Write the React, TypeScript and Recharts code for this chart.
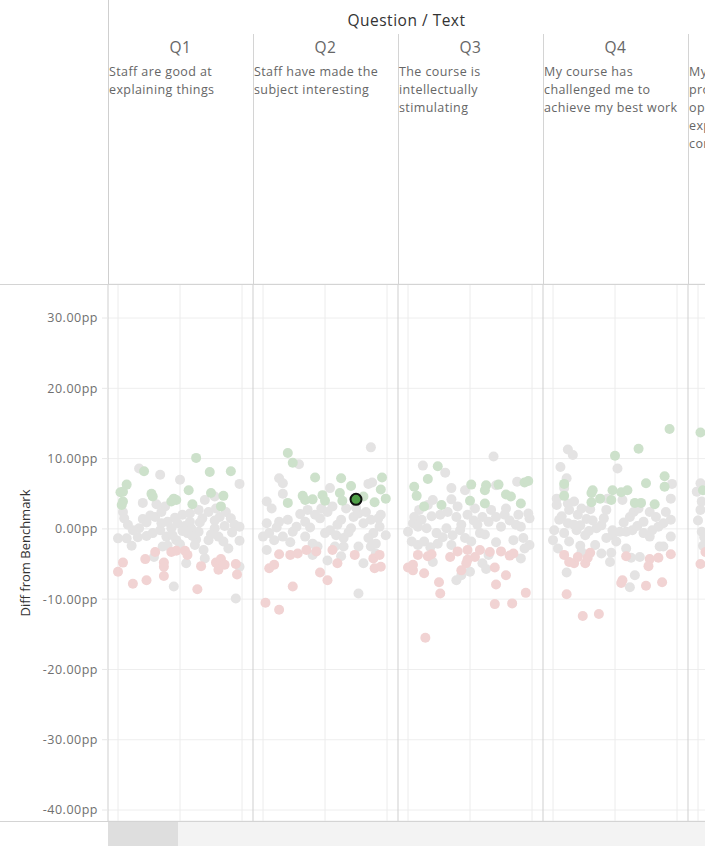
import React from 'react'
import {
  ScatterChart,
  Scatter,
  XAxis,
  YAxis,
  CartesianGrid,
  ReferenceLine
} from 'recharts'

// [jitter 0..1 inside the panel, diff from benchmark in pp]
type Pt = [number, number]

const questions = ['Q1', 'Q2', 'Q3', 'Q4', 'Q5']
const questionText = [
  ['Staff are good at', 'explaining things'],
  ['Staff have made the', 'subject interesting'],
  ['The course is', 'intellectually', 'stimulating'],
  ['My course has', 'challenged me to', 'achieve my best work'],
  ['My course has', 'provided me with', 'opportunities to', 'explore ideas or', 'concepts in depth']
]
const yTicks = [-40, -30, -20, -10, 0, 10, 20, 30]

const q1Green: Pt[] = [
  [0.63, 10.1], [0.91, 8.2], [0.74, 8.1], [0.21, 8.2], [0.07, 6.3], [0.02, 5.2], [0.04, 3.9],
  [0.03, 3.4], [0.27, 5.0], [0.28, 4.6], [0.57, 5.5], [0.45, 4.3], [0.47, 4.1], [0.43, 3.9],
  [0.6, 3.5], [0.75, 5.1], [0.85, 4.7], [0.83, 3.2], [0.04, 5.3]
]
const q1Gray: Pt[] = [
  [0.17, 8.6], [0.34, 7.7], [0.5, 7.0], [0.98, 6.4], [0.2, 3.7], [0.31, 3.5], [0.38, 3.2],
  [0.7, 4.1], [0.78, 4.6], [0.04, 2.4], [0.05, 1.5], [0.08, 0.6], [0.2, 1.4], [0.23, 0.9],
  [0.3, 1.7], [0.35, 2.4], [0.4, 1.0], [0.46, 1.6], [0.52, 2.0], [0.58, 2.2], [0.65, 2.7],
  [0.68, 1.5], [0.73, 2.4], [0.79, 2.9], [0.82, 1.7], [0.87, 2.4], [0.91, 1.5], [0.94, 0.6],
  [0.98, 0.3], [0.0, -1.35], [0.07, -1.35], [0.11, -2.4], [0.16, -1.2], [0.23, -1.0],
  [0.28, -0.6], [0.34, -0.2], [0.39, -1.1], [0.4, -2.4], [0.43, 0.1], [0.47, -1.6],
  [0.5, -2.2], [0.54, 0.4], [0.56, -0.6], [0.59, 0.1], [0.63, -1.5], [0.65, -0.4],
  [0.69, -3.0], [0.7, -4.2], [0.73, -1.6], [0.78, 0.1], [0.81, -1.1], [0.85, -1.8],
  [0.89, -2.8], [0.98, -1.7], [0.55, -4.9], [0.29, -4.0], [0.45, -8.2], [0.95, -9.9],
  [0.98, -5.4], [0.35, 0.8], [0.48, 0.8], [0.58, 1.0], [0.78, 1.2], [0.17, 0.1],
  [0.6, -1.0], [0.44, -0.9], [0.52, -0.3], [0.66, 0.9], [0.92, -0.5], [0.12, -0.2],
  [0.36, -2.5], [0.62, -2.3], [0.75, -0.8], [0.26, 1.9], [0.86, 0.4]
]
const q1Red: Pt[] = [
  [0.04, -4.8], [0.0, -6.1], [0.12, -7.8], [0.23, -7.3], [0.22, -4.3], [0.3, -3.3],
  [0.37, -4.8], [0.37, -5.4], [0.37, -6.7], [0.43, -3.3], [0.47, -3.1], [0.54, -3.1],
  [0.56, -3.7], [0.64, -8.6], [0.67, -5.3], [0.79, -4.8], [0.83, -4.3], [0.86, -5.1],
  [0.81, -5.8], [0.95, -5.0], [0.96, -6.5]
]

const q2Green: Pt[] = [
  [0.2, 10.8], [0.24, 9.4], [0.42, 7.3], [0.63, 7.2], [0.71, 6.1], [0.96, 7.3], [0.95, 5.6],
  [0.99, 4.3], [0.9, 3.8], [0.32, 4.7], [0.34, 4.1], [0.4, 4.2], [0.48, 4.8], [0.5, 4.0],
  [0.62, 5.1], [0.2, 3.7], [0.81, 4.6], [0.64, 4.0]
]
const q2Highlight: Pt[] = [[0.75, 4.2]]
const q2Gray: Pt[] = [
  [0.87, 11.6], [0.29, 9.2], [0.13, 7.2], [0.16, 6.5], [0.16, 5.0], [0.85, 6.4], [0.88, 6.6],
  [0.54, 5.8], [0.03, 3.9], [0.07, 2.9], [0.03, 0.8], [0.0, -1.1], [0.05, -0.6], [0.09, -1.6],
  [0.13, 1.0], [0.2, 1.3], [0.16, -1.1], [0.24, -0.4], [0.27, 0.3], [0.34, -1.1], [0.34, 1.0],
  [0.36, 2.7], [0.42, 2.0], [0.46, 1.5], [0.47, 2.9], [0.5, -0.6], [0.54, -0.2], [0.56, 3.2],
  [0.59, -0.9], [0.63, 1.3], [0.65, -1.3], [0.67, 2.9], [0.71, 0.1], [0.73, 1.7], [0.77, 2.2],
  [0.81, 0.8], [0.83, 2.4], [0.87, 1.3], [0.89, -0.6], [0.93, 1.5], [0.94, 0.3], [0.99, -0.9],
  [0.03, -3.0], [0.4, -2.1], [0.4, -3.7], [0.58, -2.5], [0.63, -3.9], [0.52, -4.5],
  [0.77, -2.5], [0.81, -4.9], [0.87, -2.5], [0.91, -2.1], [0.91, -3.5], [0.77, -9.2],
  [0.65, -2.5], [0.44, -2.5], [0.38, 0.2], [0.6, 0.6], [0.69, -0.5], [0.3, 2.1],
  [0.11, 0.2], [0.52, 2.4], [0.75, 3.0], [0.95, 2.0], [0.22, -1.9], [0.85, -1.3]
]
const q2Red: Pt[] = [
  [0.13, -3.6], [0.22, -3.7], [0.28, -3.5], [0.05, -5.6], [0.09, -5.1], [0.46, -6.2],
  [0.52, -7.3], [0.24, -8.2], [0.02, -10.5], [0.13, -11.5], [0.35, -3.0], [0.43, -3.2],
  [0.56, -3.0], [0.6, -4.9], [0.74, -3.7], [0.89, -4.2], [0.94, -3.7], [0.9, -5.6],
  [0.95, -5.4]
]

const q3Green: Pt[] = [
  [0.24, 8.9], [0.16, 7.1], [0.05, 6.0], [0.07, 4.7], [0.13, 3.2], [0.27, 3.4], [0.51, 6.3],
  [0.5, 4.0], [0.63, 6.2], [0.62, 5.5], [0.62, 3.6], [0.73, 6.3], [0.79, 4.9], [0.83, 4.6],
  [0.94, 6.6], [0.97, 6.8], [0.91, 3.6]
]
const q3Gray: Pt[] = [
  [0.69, 10.3], [0.12, 9.0], [0.3, 8.0], [0.35, 5.8], [0.46, 5.5], [0.71, 6.2], [0.88, 6.7],
  [0.2, 4.1], [0.35, 4.2], [0.16, 3.4], [0.09, 2.7], [0.05, 1.7], [0.0, -0.4], [0.04, 0.8],
  [0.11, 1.3], [0.03, -1.8], [0.08, -2.3], [0.13, -1.8], [0.15, 0.1], [0.23, -0.6],
  [0.24, -2.1], [0.26, 2.0], [0.31, 0.1], [0.32, 2.4], [0.36, -0.9], [0.39, 1.7], [0.4, 3.2],
  [0.43, 0.6], [0.46, -1.3], [0.48, 2.0], [0.51, -1.8], [0.54, 2.9], [0.56, 0.6],
  [0.58, -0.6], [0.6, 1.7], [0.65, 1.0], [0.67, 2.7], [0.71, 1.7], [0.71, -1.9], [0.78, 2.0],
  [0.79, 2.9], [0.85, -1.6], [0.87, 0.6], [0.89, 2.0], [0.91, 0.3], [0.93, -1.3], [0.97, 2.2],
  [0.98, 1.5], [0.98, -2.3], [0.94, -2.8], [0.91, -4.2], [0.2, -4.7], [0.65, -3.7],
  [0.6, -4.9], [0.63, -5.7], [0.5, -6.1], [0.43, -6.6], [0.39, -7.3], [0.35, -2.3],
  [0.08, 0.3], [0.19, 1.8], [0.28, -1.2], [0.42, -0.2], [0.53, 1.2], [0.75, 0.3],
  [0.82, 1.2], [0.62, -0.8], [0.18, -2.6]
]
const q3Red: Pt[] = [
  [0.0, -5.5], [0.04, -5.9], [0.04, -5.1], [0.08, -3.7], [0.16, -3.9], [0.19, -3.6],
  [0.13, -6.3], [0.25, -7.6], [0.26, -9.2], [0.14, -15.5], [0.34, -4.0], [0.4, -3.2],
  [0.48, -3.0], [0.48, -4.4], [0.47, -4.9], [0.54, -4.0], [0.58, -3.0], [0.43, -5.9],
  [0.66, -3.3], [0.75, -3.2], [0.7, -5.5], [0.79, -6.6], [0.71, -7.9], [0.82, -3.8],
  [0.85, -3.5], [0.95, -9.1], [0.7, -10.7], [0.84, -10.6]
]

const q4Green: Pt[] = [
  [0.94, 14.2], [0.69, 11.4], [0.5, 10.4], [0.75, 6.5], [0.9, 7.5], [0.9, 6.0], [0.09, 6.4],
  [0.09, 4.7], [0.32, 5.5], [0.31, 5.1], [0.38, 4.3], [0.31, 3.8], [0.48, 5.5], [0.47, 4.1],
  [0.55, 5.2], [0.6, 5.5], [0.66, 3.7], [0.71, 3.7], [0.82, 3.5]
]
const q4Gray: Pt[] = [
  [0.12, 11.3], [0.16, 10.5], [0.06, 8.8], [0.11, 7.2], [0.52, 8.6], [0.96, 6.4], [0.03, 4.3],
  [0.03, 3.4], [0.09, 5.8], [0.12, 3.6], [0.17, 3.9], [0.13, 2.7], [0.23, 2.9], [0.3, 2.8],
  [0.44, 4.3], [0.43, 2.7], [0.05, 1.3], [0.01, -0.2], [0.0, -1.6], [0.04, -2.8], [0.09, -0.6],
  [0.12, 0.8], [0.13, -1.8], [0.19, -0.2], [0.22, 0.5], [0.26, -0.9], [0.27, 1.4],
  [0.22, -2.4], [0.23, -3.3], [0.32, 1.2], [0.35, 0.1], [0.39, 0.5], [0.43, -1.3],
  [0.48, -0.2], [0.48, -0.9], [0.51, -1.8], [0.54, -0.4], [0.59, -2.8], [0.59, -0.4],
  [0.62, 1.7], [0.65, 2.4], [0.64, -0.2], [0.69, 2.9], [0.73, 1.0], [0.73, -0.6], [0.78, 2.4],
  [0.78, -1.1], [0.83, 1.7], [0.85, 0.3], [0.86, -2.5], [0.89, -2.5], [0.91, 2.4], [0.95, 1.3],
  [0.95, -1.1], [0.89, 0.8], [0.34, -2.3], [0.39, -3.5], [0.47, -3.4], [0.46, -4.7],
  [0.63, -4.1], [0.7, -4.0], [0.11, -6.2], [0.66, -6.6], [0.62, -8.3], [0.95, 4.3],
  [0.56, 4.1], [0.17, 0.6], [0.29, -0.3], [0.41, 1.5], [0.57, 0.9], [0.68, 0.4],
  [0.8, -0.2], [0.07, 1.8], [0.2, 2.0]
]
const q4Red: Pt[] = [
  [0.09, -3.7], [0.13, -4.7], [0.17, -4.9], [0.2, -4.0], [0.26, -4.9], [0.28, -4.1],
  [0.3, -3.4], [0.11, -9.3], [0.24, -12.4], [0.37, -12.1], [0.59, -3.9], [0.56, -7.3],
  [0.55, -7.7], [0.75, -8.1], [0.78, -4.3], [0.77, -5.3], [0.85, -4.1], [0.95, -3.6],
  [0.88, -7.6]
]

const q5Green: Pt[] = [[0.02, 13.7], [0.04, 5.5]]
const q5Gray: Pt[] = [
  [0.02, 6.5], [-0.01, 5.3], [0.03, 3.9], [0.02, 2.7], [0.0, 1.2], [0.03, -0.4], [0.04, -2.4],
  [0.05, -1.2]
]
const q5Red: Pt[] = [[0.06, -3.3], [0.02, -5.0]]

// layout (px)
const W = 705
const H = 846
const PLOT_LEFT = 108
const PLOT_TOP = 284
const PLOT_BOTTOM = 821
const PANEL_W = 145
const PAD = 10
const SPAN = 124

const toRows = (groups: Pt[][]) =>
  groups.flatMap((pts, panel) =>
    pts.map(([j, v]) => ({ x: panel + (PAD + j * SPAN) / PANEL_W, y: v }))
  )

const greenRows = toRows([q1Green, q2Green, q3Green, q4Green, q5Green])
const grayRows = toRows([q1Gray, q2Gray, q3Gray, q4Gray, q5Gray])
const redRows = toRows([q1Red, q2Red, q3Red, q4Red, q5Red])
const highlightRows = toRows([[], q2Highlight])

const subGrid = questions.flatMap((_, i) => [
  i + PAD / PANEL_W,
  i + 0.5 * (PAD * 2 + SPAN) / PANEL_W,
  i + (PAD + SPAN) / PANEL_W
])
const borders = [1, 2, 3, 4]

const dot = (fill: string) => (props: any) =>
  <circle cx={props.cx} cy={props.cy} r={5} fill={fill} />

const font = '"Open Sans", sans-serif'

const App: React.FC = () => {
  const xMax = (W - PLOT_LEFT) / PANEL_W
  return (
    <div style={{ position: 'absolute', left: 0, top: 0, width: W, height: H, overflow: 'hidden', background: '#fff', fontFamily: font }}>
      <ScatterChart
        width={W}
        height={H}
        margin={{ top: PLOT_TOP, right: 0, bottom: H - PLOT_BOTTOM, left: 0 }}
      >
        <CartesianGrid vertical={false} stroke="#eeeeee" />
        <XAxis type="number" dataKey="x" domain={[0, xMax]} hide allowDataOverflow />
        <YAxis
          type="number"
          dataKey="y"
          width={PLOT_LEFT}
          domain={[-41.56, 34.84]}
          ticks={yTicks}
          allowDataOverflow
          tickFormatter={(v: number) => `${v.toFixed(2)}pp`}
          tick={{ fontSize: 12.5, fill: '#707070', fontFamily: font, letterSpacing: 0.5 }}
          tickLine={{ stroke: '#e8e8e8' }}
          tickSize={6}
          tickMargin={4}
          axisLine={{ stroke: '#cfcfcf' }}
        />
        {subGrid.map((x) => (
          <ReferenceLine key={`g${x}`} x={x} stroke="#ececec" />
        ))}
        {borders.map((x) => (
          <ReferenceLine key={`b${x}`} x={x} stroke="#cfcfcf" />
        ))}
        <Scatter data={grayRows} shape={dot('#e4e3e3')} isAnimationActive={false} />
        <Scatter data={greenRows} shape={dot('#cde1cb')} isAnimationActive={false} />
        <Scatter data={redRows} shape={dot('#f1d3d3')} isAnimationActive={false} />
        <Scatter
          data={highlightRows}
          shape={(p: any) => <circle cx={p.cx} cy={p.cy} r={5.5} fill="#4f9e47" stroke="#111" strokeWidth={2} />}
          isAnimationActive={false}
        />
      </ScatterChart>

      {/* header */}
      <div style={{ position: 'absolute', left: PLOT_LEFT, top: 0, width: 1, height: PLOT_TOP, background: '#cfcfcf' }} />
      <div style={{ position: 'absolute', left: 0, top: PLOT_TOP, width: W, height: 1, background: '#d4d4d4' }} />
      <div style={{ position: 'absolute', left: 0, top: PLOT_BOTTOM, width: W, height: 1, background: '#d4d4d4' }} />
      <div style={{ position: 'absolute', left: PLOT_LEFT, width: W - PLOT_LEFT, top: 10, textAlign: 'center', fontSize: 15.5, letterSpacing: 0.5, lineHeight: '20px', color: '#333' }}>
        Question / Text
      </div>
      {questions.map((q, i) => {
        const left = PLOT_LEFT + i * PANEL_W
        return (
          <React.Fragment key={q}>
            {i > 0 && (
              <div style={{ position: 'absolute', left, top: 34, width: 1, height: PLOT_TOP - 34, background: '#d4d4d4' }} />
            )}
            <div style={{ position: 'absolute', left, top: 37, width: PANEL_W, textAlign: 'center', fontSize: 15.5, letterSpacing: 0.5, lineHeight: '20px', color: '#666' }}>
              {q}
            </div>
            <div style={{ position: 'absolute', left: left + 1, top: 63, width: PANEL_W - 2, fontSize: 12.5, letterSpacing: 0.4, lineHeight: '18px', color: '#666', whiteSpace: 'pre' }}>
              {questionText[i].join('\n')}
            </div>
          </React.Fragment>
        )
      })}

      {/* axis title */}
      <div style={{ position: 'absolute', left: 25, top: (PLOT_TOP + PLOT_BOTTOM) / 2, transform: 'translate(-50%, -50%) rotate(-90deg)', whiteSpace: 'nowrap', fontSize: 13, color: '#333' }}>
        Diff from Benchmark
      </div>

      {/* scrollbar */}
      <div style={{ position: 'absolute', left: PLOT_LEFT, top: PLOT_BOTTOM + 1, width: W - PLOT_LEFT, height: H - PLOT_BOTTOM - 1, background: '#f3f3f3' }} />
      <div style={{ position: 'absolute', left: PLOT_LEFT, top: PLOT_BOTTOM + 1, width: 70, height: H - PLOT_BOTTOM - 1, background: '#dedede' }} />
    </div>
  )
}

export default App
